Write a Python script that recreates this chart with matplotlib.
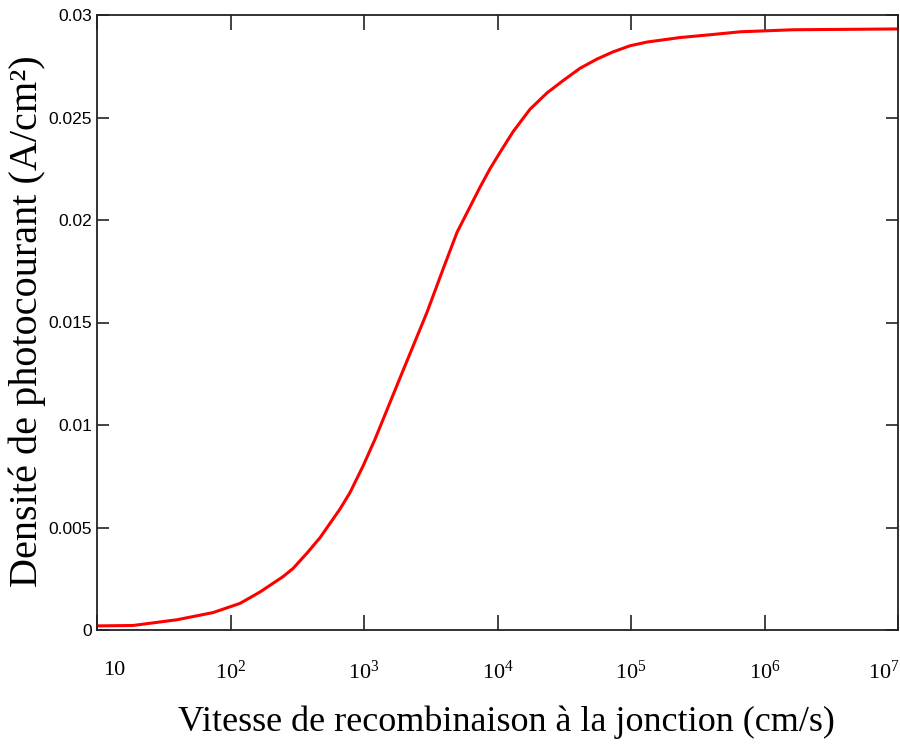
import matplotlib
matplotlib.use('Agg')
import matplotlib.pyplot as plt
from matplotlib.transforms import ScaledTranslation

# recombination velocity at the junction (cm/s)
sf = [10, 18.6, 39.7, 74, 101, 118, 166, 247, 294, 374, 468, 556, 661, 785,
      984, 1208, 1862, 2965, 3908, 4977, 7396, 8790, 10450, 13060, 17500,
      23500, 31000, 41500, 55600, 73300, 98400, 131800, 232800, 411000,
      654600, 1.633e6, 1e7]
# photocurrent density (A/cm2)
jph = [0.0002, 0.00022, 0.0005, 0.00085, 0.00115, 0.0013, 0.00185, 0.0026,
       0.0030, 0.00375, 0.0045, 0.0052, 0.0059, 0.0067, 0.0080, 0.0093,
       0.0123, 0.0155, 0.0176, 0.0194, 0.0216, 0.0225, 0.0233, 0.0243,
       0.0254, 0.0262, 0.0268, 0.0274, 0.02785, 0.0282, 0.0285, 0.02868,
       0.0289, 0.02905, 0.02918, 0.02928, 0.02932]

x_ticks = [10, 1e2, 1e3, 1e4, 1e5, 1e6, 1e7]
x_ticklabels = ['10', r'$10^{2}$', r'$10^{3}$', r'$10^{4}$', r'$10^{5}$',
                r'$10^{6}$', r'$10^{7}$']
y_ticks = [0, 0.005, 0.01, 0.015, 0.02, 0.025, 0.03]
y_ticklabels = ['0', '0.005', '0.01', '0.015', '0.02', '0.025', '0.03']

plt.rcParams['mathtext.fontset'] = 'custom'
plt.rcParams['mathtext.rm'] = 'Liberation Serif'
plt.rcParams['mathtext.it'] = 'Liberation Serif'

fig = plt.figure(figsize=(9, 7.49), dpi=100)
ax = fig.add_axes([97/900, 1-630/749, 801/900, 615/749])

ax.plot(sf, jph, color='#ff0000', lw=2.2)

ax.set_xscale('log')
ax.set_xlim(10, 1e7)
ax.set_ylim(0, 0.03)
ax.minorticks_off()

ax.set_xticks(x_ticks)
ax.set_xticklabels(x_ticklabels, family='Liberation Serif', fontsize=16)
ax.set_yticks(y_ticks)
ax.set_yticklabels(y_ticklabels, family='Liberation Sans', fontsize=12.5)

ax.tick_params(axis='x', direction='in', length=10.5, width=1.2,
               top=True, pad=22, colors='#222222', labelcolor='black')
ax.tick_params(axis='y', direction='in', length=8.5, width=1.2,
               right=True, pad=3.5, colors='#222222', labelcolor='black')
for s in ax.spines.values():
    s.set_linewidth(1.3)
    s.set_color('#222222')

# end labels are nudged inwards so they stay on the canvas
xlabels = ax.get_xticklabels()
xlabels[0].set_transform(xlabels[0].get_transform()
                         + ScaledTranslation(0.17, 0, fig.dpi_scale_trans))
xlabels[-1].set_transform(xlabels[-1].get_transform()
                          + ScaledTranslation(-0.14, 0, fig.dpi_scale_trans))

ax.set_xlabel('Vitesse de recombinaison à la jonction (cm/s)',
              family='Liberation Serif', fontsize=26)
ax.xaxis.set_label_coords(0.511, -0.122)
ax.set_ylabel('Densité de photocourant (A/cm²)',
              family='Liberation Serif', fontsize=29)
ax.yaxis.set_label_coords(-0.064, 0.502)

fig.savefig('out.png', dpi=100)
